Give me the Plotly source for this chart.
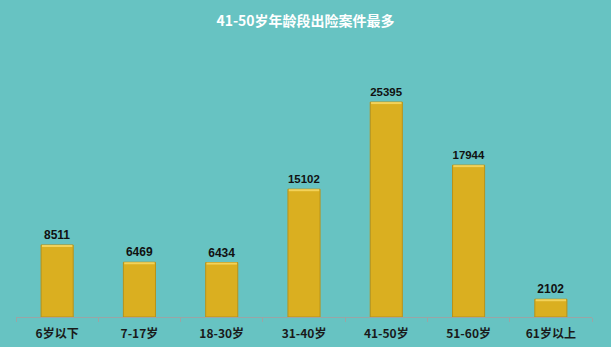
import plotly.graph_objects as go

categories = ["6岁以下", "7-17岁", "18-30岁", "31-40岁", "41-50岁", "51-60岁", "61岁以上"]
values = [8511, 6469, 6434, 15102, 25395, 17944, 2102]
title_text = "41-50岁年龄段出险案件最多"

bg = "#67C3C2"
font_family = "Noto Sans CJK SC, Arial, sans-serif"
bar_width = 0.39

fig = go.Figure()
fig.add_trace(go.Bar(
    x=categories,
    y=values,
    marker=dict(color="#DAAF20", line=dict(color="#B8921A", width=1)),
    text=[f"<b>{v}</b>" for v in values],
    textposition="outside",
    textfont=dict(family="Arial, Liberation Sans, sans-serif", size=12, color="#111111"),
    cliponaxis=False,
    width=bar_width,
))

# light highlight along each bar's top edge
for i, v in enumerate(values):
    fig.add_shape(
        type="line", xref="x", yref="y",
        x0=i - bar_width / 2 + 0.01, x1=i + bar_width / 2 - 0.01,
        y0=v - 120, y1=v - 120,
        line=dict(color="#F2D25A", width=2),
    )

fig.update_layout(
    width=611,
    height=347,
    margin=dict(l=16, r=19, t=80, b=30),
    paper_bgcolor=bg,
    plot_bgcolor=bg,
    showlegend=False,
    title=dict(
        text=f"<b>{title_text}</b>",
        x=0.5,
        xanchor="center",
        y=0.94,
        yanchor="middle",
        font=dict(family=font_family, size=14, color="#FFFFFF"),
    ),
    xaxis=dict(
        showline=True,
        linecolor="#9AA5A5",
        linewidth=1,
        ticks="outside",
        tickson="boundaries",
        ticklen=4,
        tickcolor="#9AA5A5",
        ticklabelstandoff=6,
        automargin=False,
        showgrid=False,
        tickfont=dict(family=font_family, size=12, color="#1A1A1A", weight="bold"),
        fixedrange=True,
    ),
    yaxis=dict(
        visible=False,
        range=[0, 28000],
        showgrid=False,
        zeroline=False,
    ),
)

fig.write_html("out.html")
